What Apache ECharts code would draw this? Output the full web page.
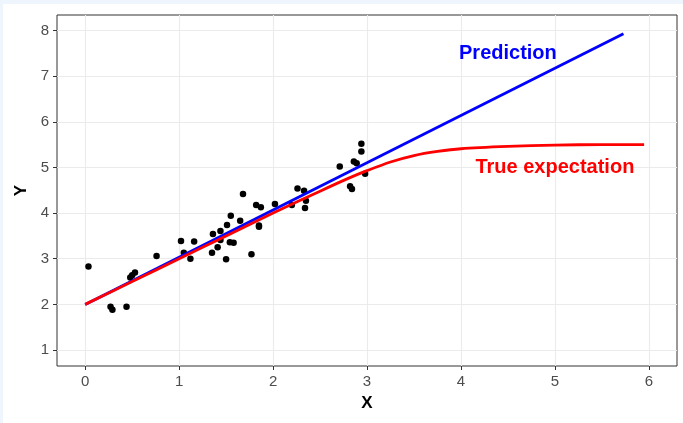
<!DOCTYPE html>
<html><head><meta charset="utf-8">
<script src="https://cdn.jsdelivr.net/npm/echarts@6/dist/echarts.min.js"></script>
<style>html,body{margin:0;padding:0;background:#eef5fd;overflow:hidden}#c{position:absolute;left:3px;top:4px;width:680px;height:419px;background:#fff;}</style>
</head><body><div id="c"></div><script>
const pointsX = [0.035,0.27,0.29,0.44,0.48,0.50,0.53,0.76,1.02,1.05,1.12,1.16,1.35,1.36,1.41,1.44,1.44,1.50,1.51,1.55,1.54,1.58,1.65,1.68,1.77,1.82,1.87,1.85,1.85,2.02,2.20,2.26,2.33,2.35,2.34,2.71,2.86,2.89,2.82,2.84,2.94,2.94,2.98];
const pointsY = [2.83,1.95,1.88,1.95,2.59,2.64,2.70,3.06,3.39,3.13,3.00,3.38,3.13,3.54,3.25,3.61,3.41,2.99,3.74,3.94,3.36,3.35,3.83,4.42,3.10,4.18,4.13,3.73,3.70,4.20,4.18,4.54,4.49,4.27,4.11,5.02,5.13,5.09,4.59,4.53,5.52,5.35,4.86];
const predX = [0, 5.73];
const predY = [2.0, 7.93];
const trueX = [0, 0.5, 1, 1.5, 2, 2.5, 2.8, 3.0, 3.25, 3.5, 3.75, 4.0, 4.5, 5.0, 5.5, 5.95];
const trueY = [2.0, 2.5, 3.0, 3.5, 4.0, 4.48, 4.76, 4.93, 5.12, 5.26, 5.35, 5.41, 5.46, 5.49, 5.50, 5.50];
const xTicks = [0,1,2,3,4,5,6];
const yTicks = [1,2,3,4,5,6,7,8];
const annText = ['Prediction','True expectation'];
const annX = [4.5, 5.0];
const annY = [7.5, 5.0];
const annColor = ['#0000ff','#ff0000'];

const chart = echarts.init(document.getElementById('c'), null, {renderer:'canvas'});
const font = "'Liberation Sans', Arial, sans-serif";
const zip = (a,b)=>a.map((v,i)=>[v,b[i]]);
const axisCommon = {
  type:'value',
  axisLine:{show:false, onZero:false},
  axisTick:{show:true, inside:false, length:4, lineStyle:{color:'#333', width:1}},
  axisLabel:{color:'#4d4d4d', fontSize:15, fontFamily:font, margin:8},
  splitLine:{show:true, lineStyle:{color:'#ebebeb', width:1.1}},
  nameLocation:'middle',
  nameTextStyle:{color:'#000', fontSize:17, fontWeight:'bold', fontFamily:font}
};
chart.setOption({
  animation:false,
  backgroundColor:'#fff',
  grid:{left:54, top:11, right:6, bottom:57, show:true, borderColor:'#333', borderWidth:1, backgroundColor:'transparent'},
  xAxis:Object.assign({}, axisCommon, {min:-0.3, max:6.3, splitNumber:7, name:'X', nameGap:29,
    axisTick:Object.assign({}, axisCommon.axisTick, {customValues:xTicks}),
    axisLabel:Object.assign({}, axisCommon.axisLabel, {customValues:xTicks})}),
  yAxis:Object.assign({}, axisCommon, {min:0.65, max:8.34, splitNumber:8, name:'Y', nameGap:23, nameRotate:90,
    axisTick:Object.assign({}, axisCommon.axisTick, {customValues:yTicks}),
    axisLabel:Object.assign({}, axisCommon.axisLabel, {customValues:yTicks})}),
  series:[
    {type:'scatter', data:zip(pointsX,pointsY), symbolSize:6.5, itemStyle:{color:'#000', opacity:1}, z:2},
    {type:'line', data:zip(predX,predY), showSymbol:false, lineStyle:{color:'#0000ff', width:2.8}, z:3},
    {type:'line', data:zip(trueX,trueY), showSymbol:false, smooth:0.3, lineStyle:{color:'#ff0000', width:2.8}, z:4},
    {type:'scatter', data:annX.map((x,i)=>({value:[x,annY[i]], label:{formatter:annText[i], color:annColor[i]}})),
      symbolSize:0, z:5, itemStyle:{opacity:1},
      label:{show:true, position:'inside', fontSize:20, fontWeight:'bold', fontFamily:font}}
  ]
});
</script></body></html>
